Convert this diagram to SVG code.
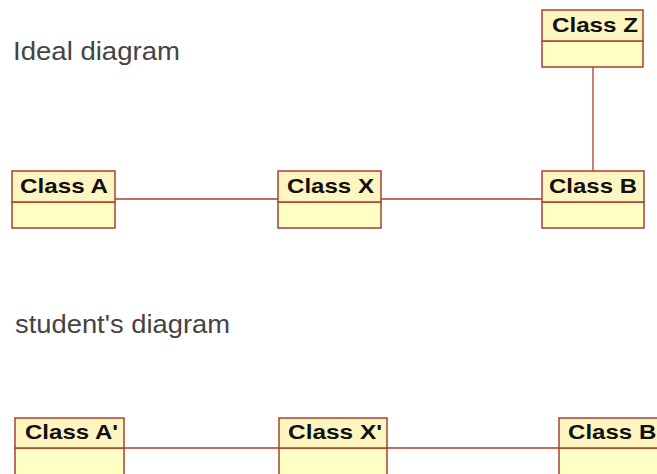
<svg xmlns="http://www.w3.org/2000/svg" width="657" height="474" viewBox="0 0 657 474">
  <style>
    .hdr { fill: #fff5c0; stroke: #a8412f; stroke-width: 1.5; }
    .body { fill: #ffffc4; stroke: #a8412f; stroke-width: 1.5; }
    .name { font-family: "Liberation Sans", Arial, sans-serif; font-weight: bold; font-size: 21px; fill: #111; }
    .caption { font-family: "Liberation Sans", Arial, sans-serif; font-size: 26px; fill: #444; }
    .conn line { stroke: #b03a2e; stroke-width: 1.3; }
  </style>
  <rect width="657" height="474" fill="#ffffff"/>

  <text class="caption" x="13" y="60" textLength="167" lengthAdjust="spacingAndGlyphs">Ideal diagram</text>
  <text class="caption" x="15" y="333" textLength="215" lengthAdjust="spacingAndGlyphs">student's diagram</text>

  <g class="conn" id="connectors">
    <line x1="115" y1="199" x2="278" y2="199"/>
    <line x1="381" y1="199" x2="542" y2="199"/>
    <line x1="593" y1="67" x2="593" y2="171"/>
    <line x1="124" y1="448" x2="279" y2="448"/>
    <line x1="387" y1="448" x2="559" y2="448"/>
  </g>

  <g id="classZ">
    <rect class="body" x="542" y="41" width="101" height="26"/>
    <rect class="hdr" x="542" y="10" width="101" height="31"/>
    <text class="name" x="552" y="32" textLength="86" lengthAdjust="spacingAndGlyphs">Class Z</text>
  </g>

  <g id="classA">
    <rect class="body" x="12" y="202" width="103" height="26"/>
    <rect class="hdr" x="12" y="171" width="103" height="31"/>
    <text class="name" x="20" y="193" textLength="88" lengthAdjust="spacingAndGlyphs">Class A</text>
  </g>

  <g id="classX">
    <rect class="body" x="278" y="202" width="103" height="26"/>
    <rect class="hdr" x="278" y="171" width="103" height="31"/>
    <text class="name" x="287" y="193" textLength="87" lengthAdjust="spacingAndGlyphs">Class X</text>
  </g>

  <g id="classB">
    <rect class="body" x="542" y="202" width="102" height="26"/>
    <rect class="hdr" x="542" y="171" width="102" height="31"/>
    <text class="name" x="549" y="193" textLength="88" lengthAdjust="spacingAndGlyphs">Class B</text>
  </g>

  <g id="classA2">
    <rect class="body" x="15" y="448" width="109" height="40"/>
    <rect class="hdr" x="15" y="418" width="109" height="30"/>
    <text class="name" x="25" y="439" textLength="93" lengthAdjust="spacingAndGlyphs">Class A'</text>
  </g>

  <g id="classX2">
    <rect class="body" x="279" y="448" width="108" height="40"/>
    <rect class="hdr" x="279" y="418" width="108" height="30"/>
    <text class="name" x="288" y="439" textLength="94" lengthAdjust="spacingAndGlyphs">Class X'</text>
  </g>

  <g id="classB2">
    <rect class="body" x="559" y="448" width="110" height="40"/>
    <rect class="hdr" x="559" y="418" width="110" height="30"/>
    <text class="name" x="568" y="439" textLength="94" lengthAdjust="spacingAndGlyphs">Class B'</text>
  </g>
</svg>
